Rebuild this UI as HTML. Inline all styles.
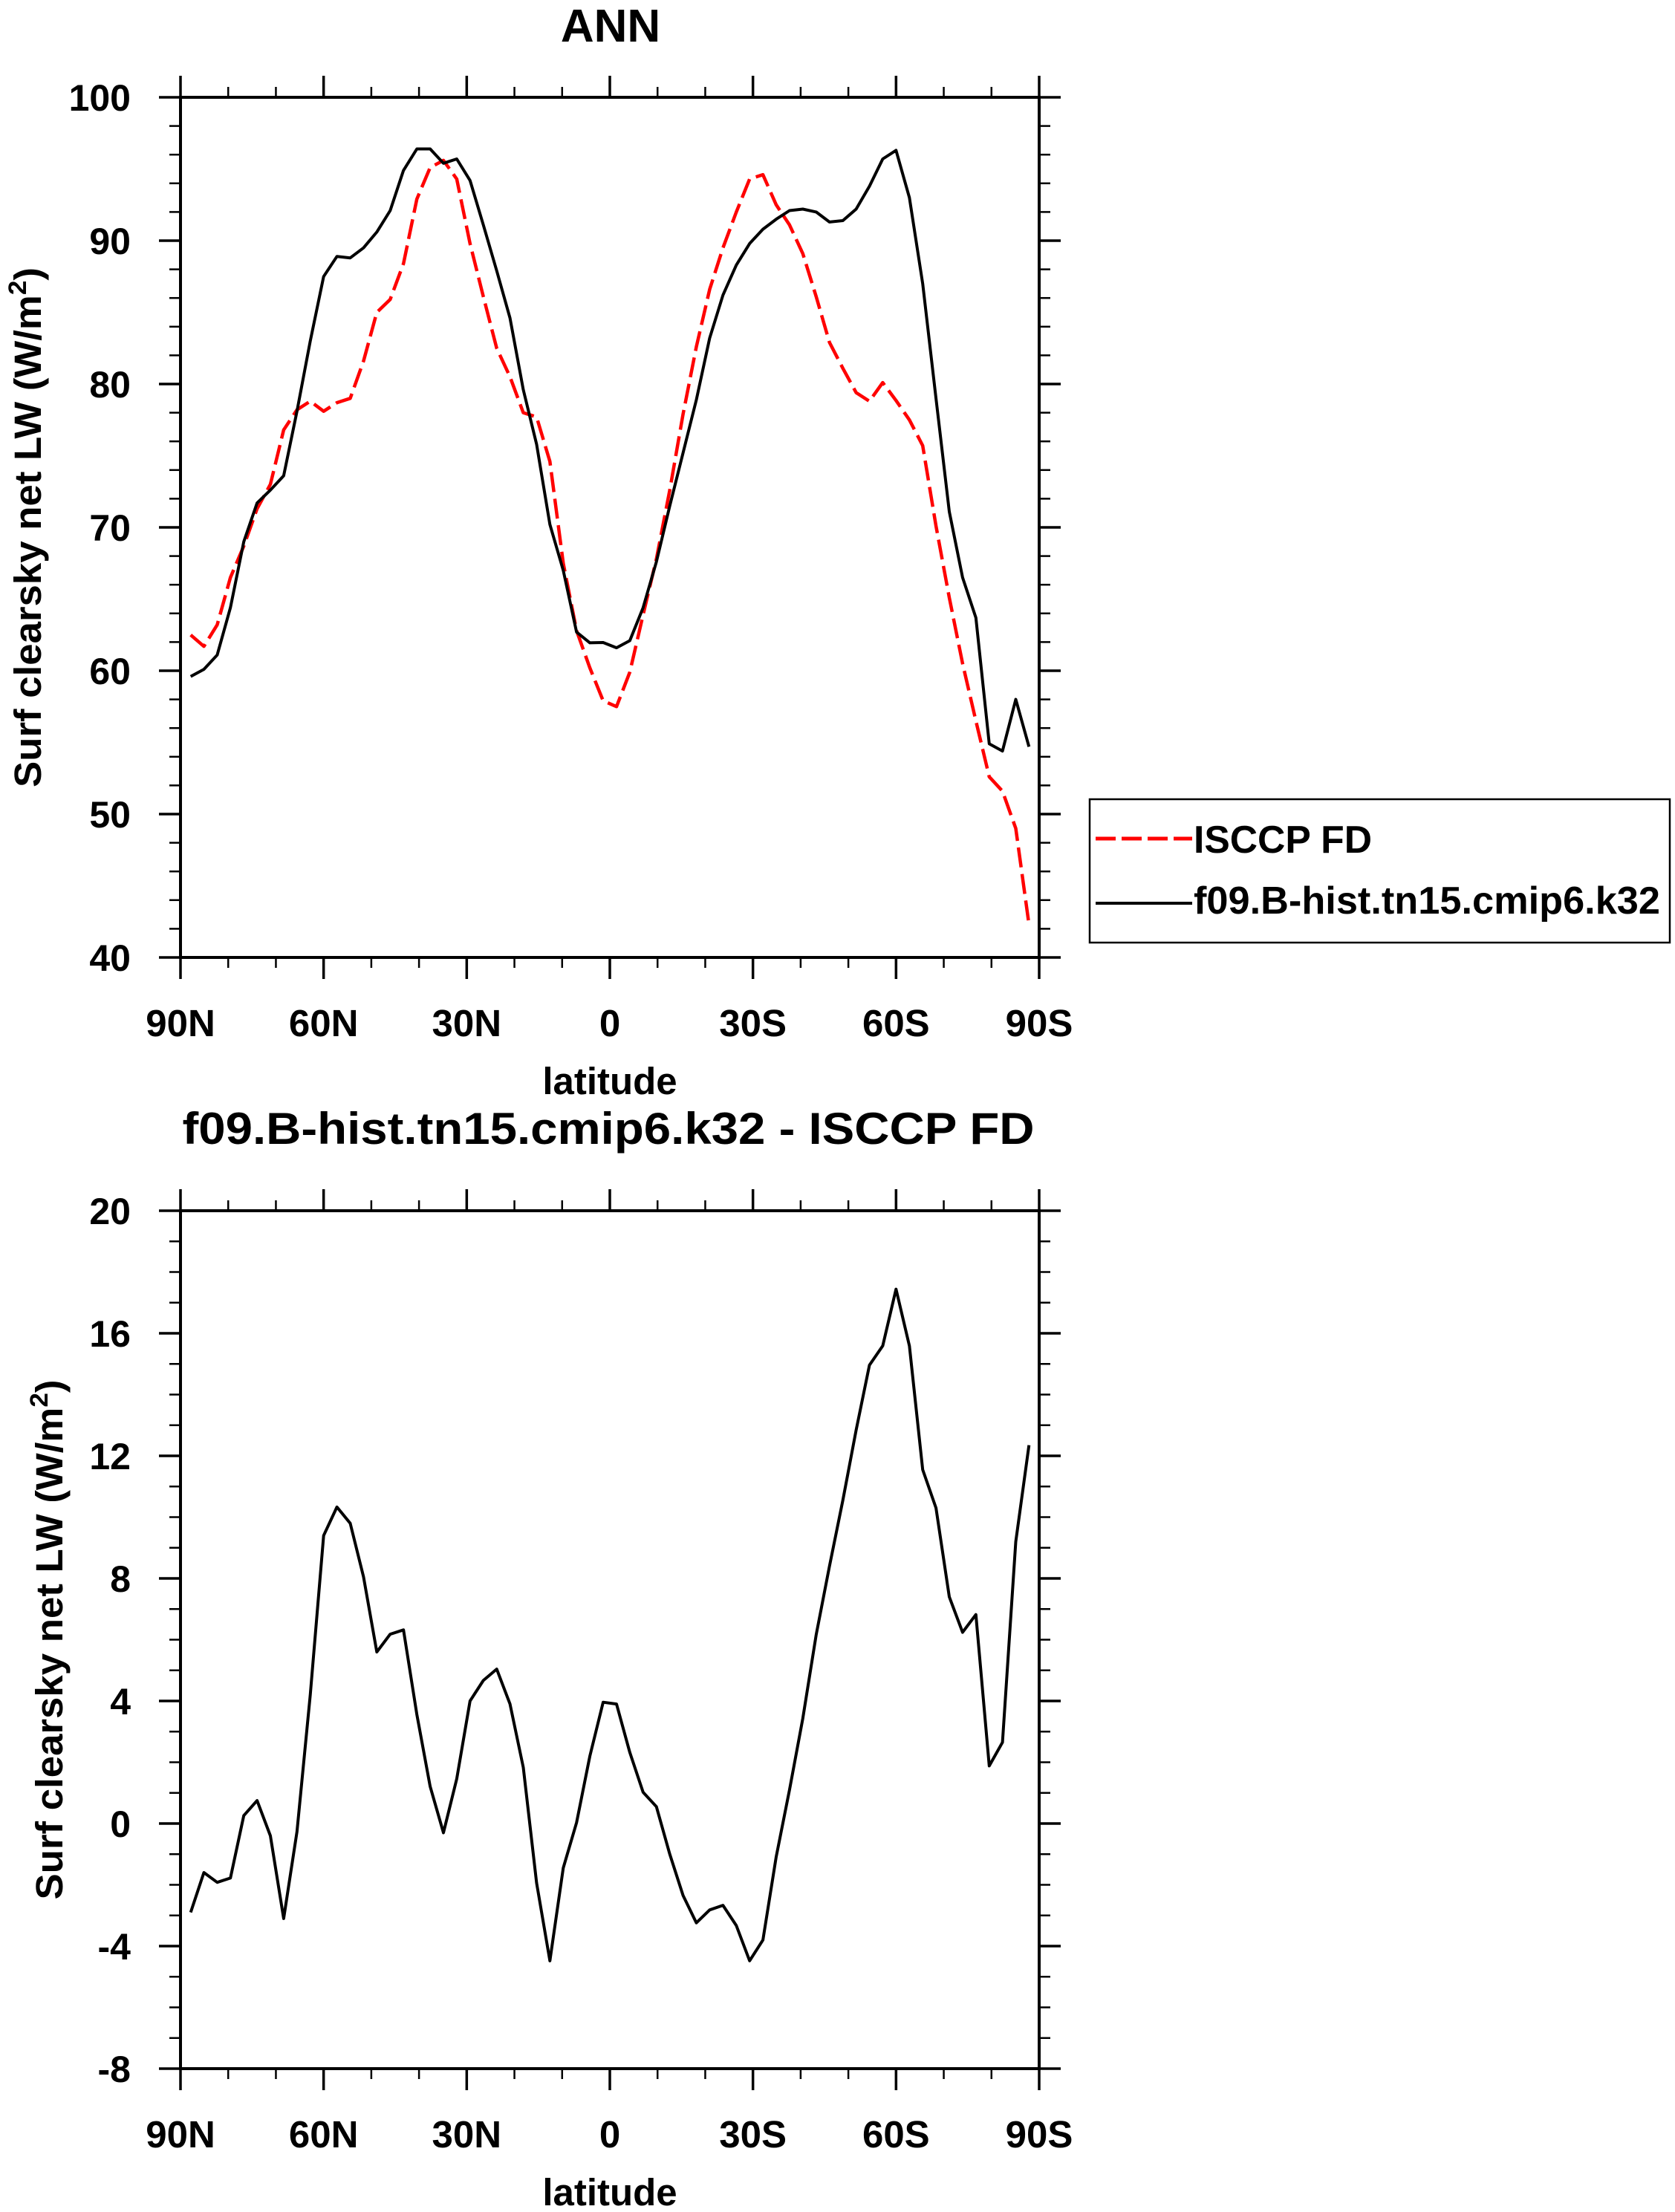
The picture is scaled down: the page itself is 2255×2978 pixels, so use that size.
<!DOCTYPE html>
<html><head><meta charset="utf-8"><style>
html,body{margin:0;padding:0;background:#fff;}
svg{display:block;font-family:"Liberation Sans",Arial,sans-serif;font-weight:bold;}
</style></head><body>
<svg id="chart" xmlns="http://www.w3.org/2000/svg" width="2255" height="2978" viewBox="0 0 2255 2978">
<rect x="0" y="0" width="2255" height="2978" fill="#fff"/>
<text x="822" y="56" font-size="62" text-anchor="middle">ANN</text>
<text x="819" y="1540" font-size="60" text-anchor="middle" textLength="1147" lengthAdjust="spacingAndGlyphs">f09.B-hist.tn15.cmip6.k32 - ISCCP FD</text>
<g id="top"></g>
<g id="bot"></g>
<g>
<rect x="1467" y="1076" width="781" height="193" fill="none" stroke="#000" stroke-width="2.5"/>
<line x1="1475" y1="1129" x2="1605" y2="1129" stroke="#f00" stroke-width="5" stroke-dasharray="27 8"/>
<text x="1607" y="1148" font-size="52" textLength="240" lengthAdjust="spacingAndGlyphs">ISCCP FD</text>
<line x1="1475" y1="1216" x2="1605" y2="1216" stroke="#000" stroke-width="4"/>
<text x="1607" y="1230" font-size="52" textLength="628" lengthAdjust="spacingAndGlyphs">f09.B-hist.tn15.cmip6.k32</text>
</g>
</svg>
<script>
const lats = [87.86,85.10,82.31,79.53,76.74,73.95,71.16,68.37,65.58,62.79,60.00,57.21,54.42,51.63,48.84,46.05,43.26,40.46,37.67,34.88,32.09,29.30,26.51,23.72,20.93,18.14,15.35,12.56,9.77,6.98,4.19,1.40,
-1.40,-4.19,-6.98,-9.77,-12.56,-15.35,-18.14,-20.93,-23.72,-26.51,-29.30,-32.09,-34.88,-37.67,-40.46,-43.26,-46.05,-48.84,-51.63,-54.42,-57.21,-60.00,-62.79,-65.58,-68.37,-71.16,-73.95,-76.74,-79.53,-82.31,-85.10,-87.86];
const modelValues = [59.6,60.1,61.1,64.4,69.0,71.7,72.6,73.6,78.1,83.0,87.5,88.9,88.8,89.5,90.6,92.1,94.9,96.4,96.4,95.4,95.7,94.2,91.1,87.9,84.6,79.6,75.8,70.2,67.0,62.7,61.95,61.97,61.6,62.1,64.4,67.6,71.5,75.2,78.9,83.2,86.2,88.3,89.8,90.8,91.5,92.1,92.2,92.0,91.3,91.4,92.2,93.8,95.7,96.3,93.0,87.0,79.0,71.1,66.5,63.7,54.9,54.4,58.0,54.7];
const obsValues = [62.5,61.7,63.2,66.5,68.7,71.3,73.0,76.8,78.2,78.8,78.1,78.7,79.0,81.6,85.0,85.9,88.4,92.9,95.1,95.6,94.3,89.8,86.1,82.5,80.5,78.0,77.7,74.6,67.5,62.8,60.2,57.9,57.5,59.9,63.9,67.8,72.6,77.9,82.6,86.6,89.5,92.0,94.3,94.6,92.5,91.1,89.1,86.1,82.9,81.1,79.4,78.8,80.1,78.85,77.5,75.7,70.1,65.1,60.5,56.5,52.6,51.6,49.0,42.3];
const diffValues = [-2.9,-1.6,-1.92,-1.78,0.26,0.75,-0.4,-3.1,-0.27,4.2,9.4,10.33,9.8,8.05,5.6,6.18,6.32,3.56,1.21,-0.3,1.46,4.0,4.67,5.04,3.9,1.83,-1.94,-4.48,-1.45,0.03,2.2,3.96,3.9,2.32,1.02,0.55,-1.0,-2.35,-3.24,-2.82,-2.67,-3.33,-4.48,-3.8,-1.08,1.1,3.43,6.16,8.4,10.55,12.84,14.96,15.59,17.44,15.59,11.55,10.3,7.4,6.24,6.82,1.88,2.65,9.2,12.35];
const xTickLats = [90,60,30,0,-30,-60,-90];
const xTickLabels = ["90N","60N","30N","0","30S","60S","90S"];
const topYTicks = [40,50,60,70,80,90,100];
const botYTicks = [-8,-4,0,4,8,12,16,20];

const NS="http://www.w3.org/2000/svg";
function mk(parent,tag,attrs){const e=document.createElementNS(NS,tag);for(const k in attrs)e.setAttribute(k,attrs[k]);parent.appendChild(e);return e;}

function panel(g,top,bottom,ymin,ymax,yTicks,yMinorStep,ylabelX){
  const L=243,R=1399;
  const xs=lat=>L+(90-lat)/180*(R-L);
  const ys=v=>bottom-(v-ymin)/(ymax-ymin)*(bottom-top);
  // minor x ticks
  for(let lat=90;lat>=-90;lat-=10){
    const major=lat%30===0;const len=major?29:14;const x=xs(lat);
    const t1=mk(g,'line',{x1:x,y1:bottom,x2:x,y2:bottom+len,stroke:'#000','stroke-width':major?3.5:2.5});
    
    
    const t2=mk(g,'line',{x1:x,y1:top,x2:x,y2:top-len,stroke:'#000','stroke-width':major?3.5:2.5});
    
    
  }
  for(let v=ymin;v<=ymax+1e-9;v+=yMinorStep){
    const major=yTicks.some(t=>Math.abs(t-v)<1e-6);const len=major?29:15;const y=ys(v);
    const t1=mk(g,'line',{x1:L,y1:y,x2:L-len,y2:y,stroke:'#000','stroke-width':major?3.5:2.5});
    
    
    const t2=mk(g,'line',{x1:R,y1:y,x2:R+len,y2:y,stroke:'#000','stroke-width':major?3.5:2.5});
    
    
  }
  yTicks.forEach(v=>{
    const t=mk(g,'text',{x:176,y:ys(v)+18,'font-size':50,'text-anchor':'end'});
    t.textContent=String(v);
    
    
  });
  xTickLats.forEach((lat,i)=>{
    const t=mk(g,'text',{x:xs(lat),y:bottom+106,'font-size':51,'text-anchor':'middle'});
    t.textContent=xTickLabels[i];
    
    
  });
  const xt=mk(g,'text',{x:821,y:bottom+184,'font-size':51,'text-anchor':'middle'});
  xt.textContent='latitude';
  
  
  const cy=(top+bottom)/2;
  const yt=mk(g,'text',{x:0,y:0,'font-size':51,'text-anchor':'middle',transform:`translate(${ylabelX},${cy}) rotate(-90)`,textLength:700,lengthAdjust:'spacingAndGlyphs'});
  yt.innerHTML='Surf clearsky net LW (W/m<tspan font-size="34" dy="-20">2</tspan><tspan dy="20">)</tspan>';
  
  
  const fr=mk(g,'rect',{x:L,y:top,width:R-L,height:bottom-top,fill:'none',stroke:'#000','stroke-width':4});
  
  
  return {xs,ys};
}
function series(g,ax,vals,color,w,dash,name){
  const pts=vals.map((v,i)=>ax.xs(lats[i]).toFixed(1)+','+ax.ys(v).toFixed(1)).join(' ');
  const p=mk(g,'polyline',{points:pts,fill:'none',stroke:color,'stroke-width':w,'stroke-linejoin':'round'});
  if(dash)p.setAttribute('stroke-dasharray',dash);
  
  
}
const gt=document.getElementById('top');
const a1=panel(gt,131,1289,40,100,topYTicks,2,55);
series(gt,a1,obsValues,'#f00',4.5,'27 9','isccp-fd-line');
series(gt,a1,modelValues,'#000',4,null,'model-line');
const gb=document.getElementById('bot');
const a2=panel(gb,1630,2785,-8,20,botYTicks,1,84);
series(gb,a2,diffValues,'#000',4,null,'difference-line');
</script>
</body></html>
